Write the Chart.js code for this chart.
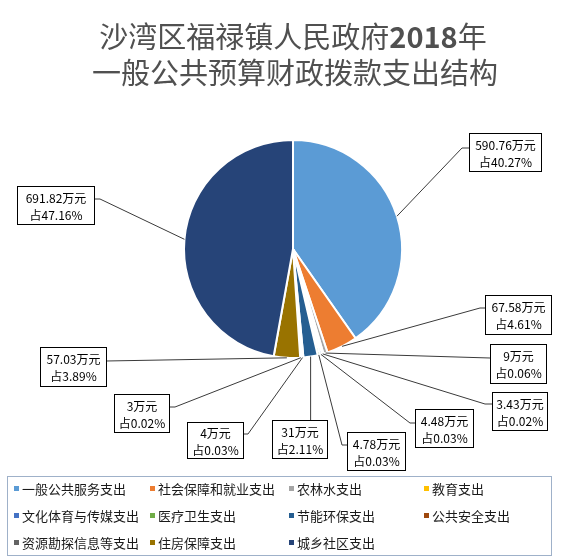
<!DOCTYPE html>
<html>
<head>
<meta charset="utf-8">
<script src="https://cdn.jsdelivr.net/npm/chart.js@4.4.1/dist/chart.umd.min.js"></script>
<style>
  html, body { margin: 0; padding: 0; background: #ffffff; }
  #wrap { width: 562px; height: 558px; position: relative; }
</style>
</head>
<body>
<div id="wrap"><canvas id="c" width="562" height="558"></canvas></div>
<script>
// ---- data ----
const titleLine1a = '沙湾区福禄镇人民政府';
const titleLine1b = '2018';
const titleLine1c = '年';
const titleLine2 = '一般公共预算财政拨款支出结构';

const categories = ['一般公共服务支出','社会保障和就业支出','农林水支出','教育支出',
  '文化体育与传媒支出','医疗卫生支出','节能环保支出','公共安全支出',
  '资源勘探信息等支出','住房保障支出','城乡社区支出'];
const values = [590.76, 67.58, 9, 3.43, 4.48, 4.78, 31, 4, 3, 57.03, 691.82];
const valueLabels = ['590.76万元','67.58万元','9万元','3.43万元','4.48万元','4.78万元','31万元','4万元','3万元','57.03万元','691.82万元'];
const shareLabels = ['占40.27%','占4.61%','占0.06%','占0.02%','占0.03%','占0.03%','占2.11%','占0.03%','占0.02%','占3.89%','占47.16%'];
const colors = ['#5B9BD5','#ED7D31','#A5A5A5','#FFC000','#4472C4','#70AD47','#255E91','#9E480E','#636363','#997300','#264478'];

// ---- layout of callout boxes (box x,y,w,h ; elbow ; attach point on box) ----
const calloutLayout = [
  {box:[469,133,72,38], elbow:[462,148], attach:[469,148]},
  {box:[485,295,66,39], elbow:[480,308], attach:[485,308]},
  {box:[490,344,56,39], elbow:[490,358], attach:[490,358]},
  {box:[492,392,55,38], elbow:[485,404], attach:[492,404]},
  {box:[415,409,58,38], elbow:[410,423], attach:[415,423]},
  {box:[347,432,58,38], elbow:[342,445], attach:[347,445]},
  {box:[272,420,55,38], elbow:null,      attach:null, vertical:true},
  {box:[187,422,56,36], elbow:[248,434], attach:[243,434]},
  {box:[114,394,55,38], elbow:[175,407], attach:[169,407]},
  {box:[40,347,66,39],  elbow:[106,361], attach:[106,361]},
  {box:[17,186,77,38],  elbow:[100,199], attach:[94,199]}
];
const legendCols = [14, 150, 289, 424];
const legendRows = [489, 516, 543];

const CJK = '"Noto Sans CJK SC", "Noto Sans", sans-serif';

const overlay = {
  id: 'overlay',
  afterDraw(chart) {
    const ctx = chart.ctx;
    ctx.save();
    // Title
    ctx.fillStyle = '#505050';
    ctx.textBaseline = 'middle';
    ctx.font = '29px ' + CJK;
    const wa = ctx.measureText(titleLine1a).width;
    const wc = ctx.measureText(titleLine1c).width;
    ctx.font = 'bold 29px ' + CJK;
    const wb = ctx.measureText(titleLine1b).width;
    let x0 = 293 - (wa + wb + wc) / 2;
    ctx.textAlign = 'left';
    ctx.font = '29px ' + CJK;
    ctx.fillText(titleLine1a, x0, 37);
    ctx.font = 'bold 29px ' + CJK;
    ctx.fillText(titleLine1b, x0 + wa, 37);
    ctx.font = '29px ' + CJK;
    ctx.fillText(titleLine1c, x0 + wa + wb, 37);
    ctx.textAlign = 'center';
    ctx.fillText(titleLine2, 295, 73);

    // Leader lines
    const meta = chart.getDatasetMeta(0);
    ctx.strokeStyle = '#3a3a3a';
    ctx.lineWidth = 1;
    meta.data.forEach((arc, i) => {
      const L = calloutLayout[i];
      const mid = (arc.startAngle + arc.endAngle) / 2;
      const ax = arc.x + Math.cos(mid) * arc.outerRadius;
      const ay = arc.y + Math.sin(mid) * arc.outerRadius;
      ctx.beginPath();
      ctx.moveTo(ax, ay);
      if (L.vertical) {
        ctx.lineTo(ax, L.box[1]);
      } else {
        ctx.lineTo(L.elbow[0], L.elbow[1]);
        ctx.lineTo(L.attach[0], L.attach[1]);
      }
      ctx.stroke();
    });

    // Boxes
    ctx.font = '12px ' + CJK;
    ctx.textAlign = 'center';
    ctx.textBaseline = 'middle';
    meta.data.forEach((arc, i) => {
      const [bx, by, bw, bh] = calloutLayout[i].box;
      ctx.fillStyle = '#ffffff';
      ctx.fillRect(bx, by, bw, bh);
      ctx.strokeStyle = '#000000';
      ctx.strokeRect(bx + 0.5, by + 0.5, bw, bh);
      ctx.fillStyle = '#000000';
      ctx.fillText(valueLabels[i], bx + bw / 2 + 0.5, by + bh / 2 - 7);
      ctx.fillText(shareLabels[i], bx + bw / 2 + 0.5, by + bh / 2 + 10);
    });

    // Legend
    ctx.strokeStyle = '#9fb1c9';
    ctx.strokeRect(7.5, 476.5, 544, 79);
    ctx.font = '13px ' + CJK;
    ctx.textAlign = 'left';
    ctx.textBaseline = 'middle';
    categories.forEach((name, i) => {
      const col = i % 4, row = Math.floor(i / 4);
      const lx = legendCols[col], ly = legendRows[row];
      ctx.fillStyle = colors[i];
      ctx.fillRect(lx, ly - 3, 5, 5);
      ctx.fillStyle = '#1a1a1a';
      ctx.fillText(name, lx + 8, ly);
    });
    ctx.restore();
  }
};

new Chart(document.getElementById('c'), {
  type: 'pie',
  data: {
    labels: categories,
    datasets: [{
      data: values,
      backgroundColor: colors,
      borderColor: '#ffffff',
      borderWidth: 2
    }]
  },
  options: {
    responsive: false,
    animation: false,
    layout: { padding: { top: 139, bottom: 199, left: 183, right: 159 } },
    plugins: {
      legend: { display: false },
      title: { display: false },
      tooltip: { enabled: false }
    }
  },
  plugins: [overlay]
});
</script>
</body>
</html>
